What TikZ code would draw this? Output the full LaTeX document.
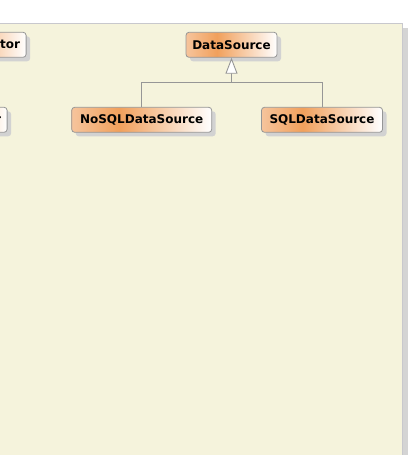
\documentclass[tikz,border=0pt]{standalone}
\usepackage{fontspec}
\setmainfont{DejaVu Sans}
\usetikzlibrary{arrows.meta,shadows}
\definecolor{canvasbg}{RGB}{245,243,220}
\definecolor{canvasline}{RGB}{200,200,205}
\definecolor{canvasshadow}{RGB}{212,212,212}
\definecolor{boxline}{RGB}{150,150,150}
\definecolor{boxshadow}{RGB}{210,210,210}
\definecolor{orA}{RGB}{246,196,156}
\definecolor{orB}{RGB}{241,160,92}
\definecolor{linkgray}{RGB}{150,150,150}
\pgfdeclarehorizontalshading{umlfill}{100bp}{color(0bp)=(orA); color(25bp)=(orA); color(42bp)=(orB); color(75bp)=(white); color(100bp)=(white)}
\tikzset{
  cls/.style={draw=boxline, line width=0.8pt, rounded corners=3pt, shading=umlfill,
    minimum height=25pt, inner xsep=6pt, inner ysep=0pt, text=black,
    font=\bfseries\fontsize{12}{14}\selectfont,
    drop shadow={shadow xshift=4pt, shadow yshift=-4pt, fill=boxshadow, opacity=1}},
  link/.style={draw=linkgray, line width=0.9pt},
}
\begin{document}
\begin{tikzpicture}[x=1pt,y=-1pt]
\useasboundingbox (0,0) rectangle (410,455);
\clip (0,0) rectangle (410,455);
\fill[white] (0,0) rectangle (410,455);
\fill[canvasshadow] (402.5,28) rectangle (407.5,460);
\fill[canvasbg] (-10,23.5) rectangle (402,460);
\draw[canvasline, line width=0.9pt] (-10,23.5) -- (402,23.5) -- (402,460);

\node[cls, text width=88pt, align=right, anchor=east] (gen) at (26.5,44.8) {tor};
\node[cls, text width=88pt, align=right, anchor=east] (other) at (7.5,119.8) {r};

\node[cls, minimum width=91pt] (ds) at (231.5,44.8) {DataSource};
\node[cls, minimum width=140pt] (nosql) at (141.7,119.8) {NoSQLDataSource};
\node[cls, minimum width=121pt] (sql) at (322,119.8) {SQLDataSource};

\coordinate (j) at (231.5,82.3);
\draw[link] (nosql.north) |- (j) -| (sql.north);
\draw[link, -{Triangle[width=12pt, length=16pt, fill=white]}] (j) -- (ds.south);
\end{tikzpicture}
\end{document}
